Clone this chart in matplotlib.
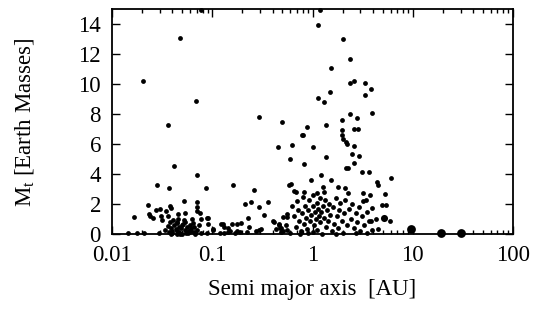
import matplotlib
matplotlib.use('Agg')

import matplotlib.pyplot as plt
from matplotlib.ticker import LogLocator, FixedLocator, NullFormatter

plt.rcParams['font.family'] = ['Liberation Serif', 'DejaVu Serif']
plt.rcParams['mathtext.fontset'] = 'custom'
plt.rcParams['mathtext.rm'] = 'Liberation Serif'
plt.rcParams['mathtext.it'] = 'Liberation Serif:italic'

# hot / close-in planets
a_inner = [0.0205, 0.0476, 0.0689, 0.0767, 0.0362, 0.0415, 0.070, 0.0283, 0.0373, 0.0861, 0.162,
           0.023, 0.0301, 0.0376, 0.0518, 0.0703, 0.070, 0.0166, 0.0233, 0.0238, 0.0254, 0.0272,
           0.031, 0.0313, 0.0348, 0.0359, 0.0385, 0.0451, 0.0533, 0.0705, 0.063, 0.076, 0.077,
           0.0914, 0.091, 0.102, 0.089,
           0.0145, 0.0176, 0.021, 0.0292, 0.078, 0.088, 0.101, 0.119, 0.131, 0.145, 0.168,
           0.152, 0.175, 0.189, 0.22,
           0.121, 0.128, 0.131, 0.144, 0.156, 0.175, 0.193, 0.229, 0.232, 0.262, 0.21, 0.241,
           0.295, 0.272, 0.295, 0.305]
m_inner = [10.2, 13.07, 8.9, 14.95, 7.31, 4.53, 3.93, 3.31, 3.09, 3.07, 3.27,
           1.95, 1.67, 1.91, 2.2, 2.13, 1.84, 1.17, 1.35, 1.22, 1.07, 1.62,
           1.22, 0.95, 1.53, 1.24, 1.77, 1.35, 1.44, 1.53, 1.0, 1.44, 1.02,
           1.07, 0.71, 0.37, 1.1,
           0.07, 0.07, 0.07, 0.12, 0.1, 0.1, 0.29, 0.07, 0.07, 0.17, 0.07,
           0.22, 0.22, 0.17, 0.13,
           0.69, 0.69, 0.47, 0.44, 0.7, 0.69, 0.73, 1.1, 0.51, 2.93, 2.0, 2.13,
           1.84, 0.24, 0.29, 0.33]

# dense clump around 0.04-0.06 AU
a_clump = [0.034, 0.036, 0.037, 0.038, 0.039, 0.040, 0.041, 0.042, 0.040, 0.043, 0.044, 0.045,
           0.046, 0.047, 0.045, 0.048, 0.049, 0.050, 0.047, 0.052, 0.053, 0.051, 0.055, 0.056,
           0.054, 0.058, 0.060, 0.057, 0.062, 0.064, 0.061, 0.066, 0.068, 0.071, 0.074, 0.065,
           0.039, 0.044, 0.050, 0.059]
m_clump = [0.3, 0.55, 0.15, 0.8, 0.45, 0.25, 0.95, 0.6, 0.1, 0.35, 0.75, 0.2,
           1.05, 0.5, 0.85, 0.05, 0.4, 0.65, 0.15, 0.95, 0.3, 0.7, 0.1, 0.5,
           0.85, 0.25, 0.6, 0.1, 0.4, 0.75, 0.2, 0.5, 0.05, 0.3, 0.6, 0.15,
           0.05, 0.05, 0.05, 0.2]

# ~1 AU population, low mass
a_mid = [0.331, 0.363, 0.41, 0.463, 0.504, 0.553, 0.561, 0.48, 0.48, 0.43, 0.51, 0.56, 0.406,
         0.458, 0.476, 0.587, 0.605, 0.658, 0.69, 0.82, 1.26, 1.29, 1.11, 1.81, 2.1, 2.25, 3.16,
         3.74, 3.45, 0.964, 1.52, 1.21, 4.37, 4.5, 6.06, 5.3, 4.97, 5.37, 3.89, 4.27, 3.83, 5.9,
         4.5,
         0.62, 0.65, 0.68, 0.70, 0.72, 0.74, 0.76, 0.78, 0.80, 0.82, 0.85, 0.87, 0.89, 0.91,
         0.93, 0.95, 0.97, 1.0, 1.0, 1.02, 1.04, 1.06, 1.08, 1.10, 1.12, 1.14, 1.16, 1.18, 1.2,
         1.22, 1.25, 1.27, 1.3, 1.33, 1.36, 1.4, 1.43, 1.46, 1.5, 1.55, 1.6, 1.65, 1.7, 1.75,
         1.8, 1.85, 1.9, 1.95, 2.0, 2.05, 2.1, 2.2, 2.3, 2.4, 2.5, 2.6, 2.7, 2.8, 2.9, 3.0,
         3.1, 3.2, 3.3, 3.5, 3.7, 3.9, 0.55, 0.6, 0.75, 0.9, 1.7, 2.7, 3.5]
m_mid = [1.27, 2.13, 0.84, 0.71, 1.17, 1.33, 1.17, 0.4, 0.17, 0.33, 0.24, 0.29, 0.89,
         0.62, 0.4, 3.31, 3.35, 2.91, 2.8, 2.84, 3.13, 2.84, 2.73, 3.13, 3.07, 2.77, 2.73,
         2.62, 2.29, 3.62, 3.62, 3.95, 3.51, 3.27, 3.73, 2.67, 1.95, 1.95, 1.73, 1.02, 0.89, 0.89,
         0.33,
         1.9, 1.2, 0.5, 2.2, 1.6, 0.9, 0.2, 1.4, 2.5, 0.7, 1.9, 1.1, 0.35, 1.6,
         2.3, 0.9, 1.3, 0.15, 1.9, 2.6, 0.6, 1.5, 1.0, 2.1, 0.3, 1.7, 1.2, 2.4, 0.8,
         1.5, 0.05, 1.9, 1.1, 2.3, 0.5, 1.6, 0.9, 2.0, 1.3, 0.2, 1.8, 0.7, 2.4, 1.2,
         0.4, 1.6, 2.1, 0.9, 0.1, 1.4, 2.3, 0.6, 1.7, 1.0, 2.0, 0.4, 1.4, 0.8, 1.8, 0.2,
         1.2, 2.2, 0.6, 1.5, 0.9, 0.3, 0.6, 0.1, 0.05, 0.1, 0.05, 0.1, 0.1]

# ~1 AU population, higher mass
a_high = [0.294, 0.493, 0.88, 0.79, 1.36, 1.95, 1.95, 1.95, 2.0, 2.15, 2.2, 2.39, 2.8, 2.6, 2.87,
          3.89, 2.62, 0.45, 0.62, 0.6, 0.83, 1.02, 1.36, 2.5, 2.92, 2.6, 2.15, 2.25, 3.09, 3.65,
          0.798, 1.19, 1.14, 2.02, 2.39, 1.54, 2.39, 2.61, 3.35, 3.86, 1.5, 1.13, 1.29, 3.33]
m_high = [7.8, 7.51, 7.13, 6.62, 7.31, 7.62, 6.95, 6.62, 6.33, 6.17, 6.0, 8.02, 7.73, 7.02, 7.02,
          8.11, 5.91, 5.82, 5.93, 5.02, 4.71, 5.82, 5.13, 5.33, 5.22, 4.73, 4.42, 4.42, 4.13, 4.13,
          6.6, 14.95, 13.97, 13.0, 11.69, 11.09, 10.09, 10.2, 10.09, 9.71, 9.49, 9.11, 8.8, 9.29]

# larger markers
a_big = [9.55, 19.1, 30.1]
m_big = [0.33, 0.1, 0.1]
a_med = [5.2]
m_med = [1.07]

fig = plt.figure(figsize=(5.37, 3.12), dpi=100)
ax = fig.add_axes([0.2086, 0.249, 0.7467, 0.721])

for a, m in [(a_inner, m_inner), (a_clump, m_clump), (a_mid, m_mid), (a_high, m_high)]:
    ax.scatter(a, m, s=12, c='black', linewidths=0, clip_on=False)
ax.scatter(a_med, m_med, s=26, c='black', linewidths=0, clip_on=False)
ax.scatter(a_big, m_big, s=40, c='black', linewidths=0, clip_on=False)

ax.set_xscale('log')
ax.set_xlim(0.01, 100)
ax.set_ylim(0, 15)
ax.set_xticks([0.01, 0.1, 1, 10, 100])
ax.set_xticklabels(['0.01', '0.1', '1', '10', '100'])
ax.xaxis.set_minor_locator(LogLocator(base=10, subs=range(2, 10)))
ax.xaxis.set_minor_formatter(NullFormatter())
ax.yaxis.set_major_locator(FixedLocator(range(0, 15, 2)))

ax.tick_params(which='both', direction='in', top=True, right=True, labelsize=16.5, width=1)
ax.tick_params(which='major', length=6)
ax.tick_params(axis='x', which='major', pad=8)
ax.tick_params(axis='y', which='major', pad=8)
ax.tick_params(which='minor', length=3)
for sp in ax.spines.values():
    sp.set_linewidth(1.3)

ax.set_xlabel('Semi major axis  [AU]', fontsize=16.5, labelpad=9)
ax.set_ylabel(r'M$_{\rm t}$ [Earth Masses]', fontsize=16.5, labelpad=30)

plt.savefig('out.png', dpi=100)
plt.close()
